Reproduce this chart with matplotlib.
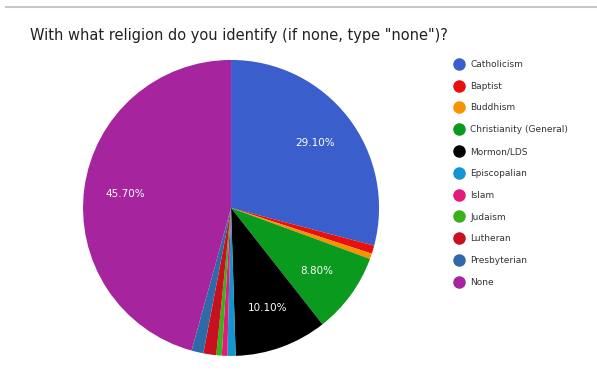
import matplotlib.pyplot as plt
from matplotlib.lines import Line2D

# Survey answers, share in percent
religions = ['Catholicism', 'Baptist', 'Buddhism', 'Christianity (General)', 'Mormon/LDS',
             'Episcopalian', 'Islam', 'Judaism', 'Lutheran', 'Presbyterian', 'None']
shares = [29.1, 0.9, 0.6, 8.8, 10.1, 0.9, 0.6, 0.6, 1.4, 1.3, 45.7]
colors = ['#3a5fcd', '#e8100f', '#f59300', '#0a9a1e', '#000000', '#1296d0',
          '#e5197a', '#3ab01c', '#c8101e', '#2f6aa8', '#a6259f']

fig = plt.figure(figsize=(5.97, 3.70), dpi=100)
fig.patch.set_facecolor('white')

# thin grey rule at the top of the screenshot
fig.add_artist(Line2D([0.01, 1.0], [0.981, 0.981], color='#c8c8c8', lw=1.5))

fig.text(0.05, 0.905, 'With what religion do you identify (if none, type "none")?',
         fontsize=10.5, color='#222222', ha='left', va='center')

ax = fig.add_axes([0.139, 0.038, 0.496, 0.80])


def fmt(p):
    return '%.2f%%' % p if p > 5 else ''


wedges, texts, autotexts = ax.pie(shares, colors=colors, startangle=90, counterclock=False,
                                  autopct=fmt, pctdistance=0.72,
                                  wedgeprops=dict(linewidth=0))
for t in autotexts:
    t.set_color('white')
    t.set_fontsize(7.5)
ax.set_xlim(-1, 1)
ax.set_ylim(-1, 1)
ax.set_aspect('equal')

handles = [Line2D([], [], marker='o', ls='', markersize=8, markerfacecolor=c,
                  markeredgecolor=c) for c in colors]
fig.legend(handles, religions, loc='upper left', bbox_to_anchor=(0.748, 0.848),
           frameon=False, fontsize=6.5, labelspacing=1.42, handletextpad=0.25,
           labelcolor='#333333', borderaxespad=0)

plt.savefig('out.png', dpi=100)
